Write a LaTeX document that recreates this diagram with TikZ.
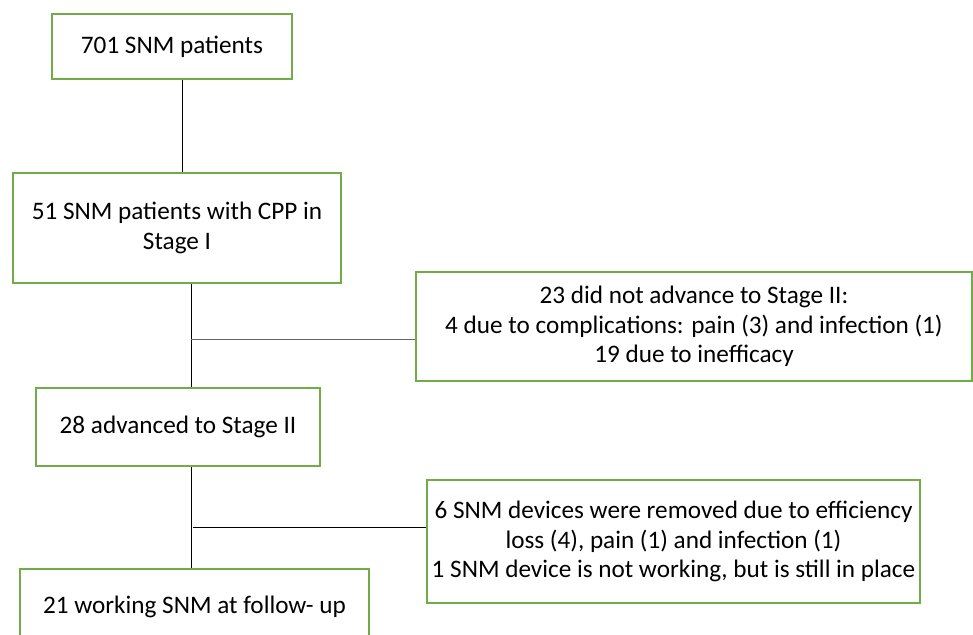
\documentclass[tikz,border=0pt]{standalone}
\usepackage{fontspec}
\setmainfont{Carlito}
\usetikzlibrary{positioning}

\definecolor{boxgreen}{HTML}{70AD47}

\begin{document}
\begin{tikzpicture}[x=1pt, y=-1pt,
    flowbox/.style={draw=boxgreen, line width=2.2pt, rectangle, align=center,
        inner sep=0pt, font=\fontsize{25.2}{29.5}\selectfont},
    link/.style={draw=black, line width=1pt}]
                \useasboundingbox (0,0) rectangle (973,634);

                \node[flowbox, minimum width=240, minimum height=65] (total) at (172,46.5) {701 SNM patients};
                \node[flowbox, minimum width=328, minimum height=110] (stageI) at (177,228) {51 SNM patients with CPP in\\Stage I};
                \node[flowbox, minimum width=556, minimum height=109] (notadv) at (694,326.5) {23 did not advance to Stage II:\\4 due to complications: pain (3) and infection (1)\\19 due to inefficacy};
                \node[flowbox, minimum width=284, minimum height=78] (stageII) at (178,427) {28 advanced to Stage II};
                \node[flowbox, minimum width=493, minimum height=123] (removed) at (673.5,541.5) {6 SNM devices were removed due to efficiency\\loss (4), pain (1) and infection (1)\\1 SNM device is not working, but is still in place};
                \node[flowbox, minimum width=349, minimum height=76] (working) at (194.5,607) {21 working SNM at follow- up};

                \coordinate (split1) at (191,339);
                \coordinate (split2) at (193,527);

                \draw[link] ([xshift=10pt]total.south) -- ([xshift=10pt]total.south |- stageI.north);
                \draw[link] (stageI.south -| split1) -- (stageII.north -| split1);
                \draw[link, draw=black!60] (split1) -- (notadv.west |- split1);
                \draw[link] (stageII.south -| split1) -- (working.north -| split1);
                \draw[link] (split2) -- (removed.west |- split2);
            \end{tikzpicture}
\end{document}
